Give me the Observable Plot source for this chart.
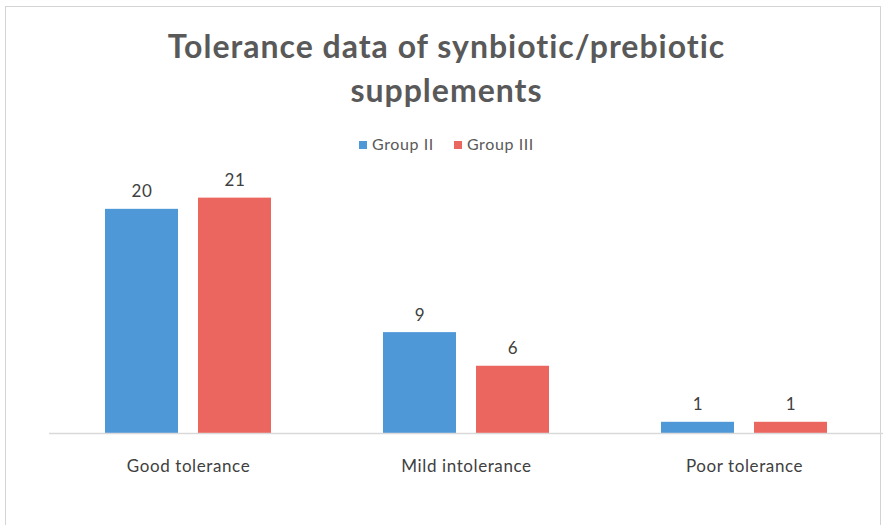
<!DOCTYPE html>
<html>
<head>
<meta charset="utf-8">
<script src="https://cdn.jsdelivr.net/npm/d3@7"></script>
<script src="https://cdn.jsdelivr.net/npm/@observablehq/plot@0.6"></script>
<style>
  html, body { margin: 0; padding: 0; background: #fff; }
  #wrap { position: relative; width: 885px; height: 525px; overflow: hidden; font-family: Lato, "Open Sans", sans-serif; }
  #frame { position: absolute; left: 5px; top: 6px; width: 876px; height: 540px; border: 1px solid #d4d4d4; box-sizing: border-box; }
  #title { position: absolute; left: 0; top: 24px; width: 893px; text-align: center; font-weight: 700; font-size: 32px; line-height: 44px; color: #595959; letter-spacing: 1px; }
  #legend { position: absolute; left: 0; top: 134px; width: 893px; text-align: center; font-size: 16px; color: #595959; letter-spacing: 0.6px; }
  #legend span.item { display: inline-block; margin: 0 10px; }
  #legend span.sw { display: inline-block; width: 8px; height: 8px; margin-right: 5px; vertical-align: 1px; }
  #chart { position: absolute; left: 0; top: 160px; }
</style>
</head>
<body>
<div id="wrap">
  <div id="frame"></div>
  <div id="title">Tolerance data of synbiotic/prebiotic<br>supplements</div>
  <div id="legend"></div>
  <div id="chart"></div>
</div>
<script>
const categories = ["Good tolerance", "Mild intolerance", "Poor tolerance"];
const groups = ["Group II", "Group III"];
const groupII = [20, 9, 1];
const groupIII = [21, 6, 1];
const colors = ["#4f98d8", "#ec6660"];

const data = [];
categories.forEach((c, i) => {
  data.push({category: c, group: groups[0], value: groupII[i]});
  data.push({category: c, group: groups[1], value: groupIII[i]});
});

const legend = document.getElementById("legend");
groups.forEach((g, i) => {
  const item = document.createElement("span");
  item.className = "item";
  const sw = document.createElement("span");
  sw.className = "sw";
  sw.style.background = colors[i];
  item.appendChild(sw);
  item.appendChild(document.createTextNode(g));
  legend.appendChild(item);
});

const chart = Plot.plot({
  width: 885,
  height: 365,
  marginLeft: 49,
  marginRight: 2,
  marginTop: 4,
  marginBottom: 92,
  style: {fontFamily: "Lato, 'Open Sans', sans-serif", fontSize: "17px", color: "#404040", background: "transparent", letterSpacing: "0.6px"},
  fx: {domain: categories, padding: 0, axis: "bottom", tickSize: 0, tickPadding: 26, label: null},
  x: {domain: groups, paddingInner: 0.215, paddingOuter: 0.6, axis: null},
  y: {domain: [0, 24], axis: null},
  color: {domain: groups, range: colors},
  marks: [
    Plot.barY(data, {fx: "category", x: "group", y: "value", fill: "group"}),
    Plot.ruleY([0], {stroke: "#d9d9d9", strokeWidth: 1.5}),
    Plot.text(data, {fx: "category", x: "group", y: "value", text: d => String(d.value), lineAnchor: "bottom", dy: -12, fontSize: 17, fill: "#404040"})
  ]
});
document.getElementById("chart").appendChild(chart);
</script>
</body>
</html>
